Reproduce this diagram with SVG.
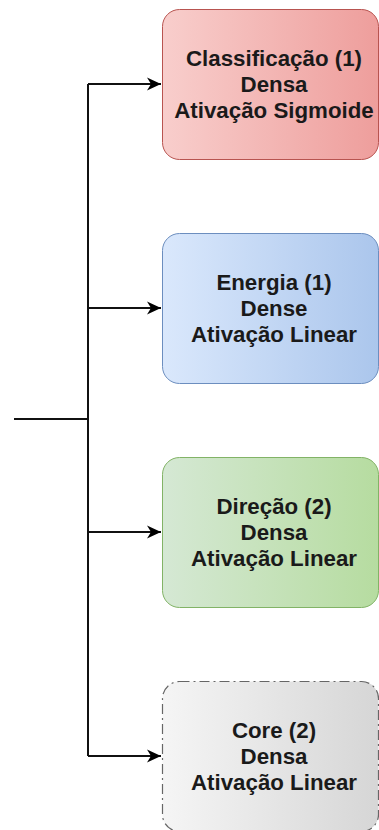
<svg xmlns="http://www.w3.org/2000/svg" width="379" height="830" viewBox="0 0 379 830">
<defs>
<linearGradient id="gRed" x1="0" y1="0" x2="1" y2="0"><stop offset="0" stop-color="#f8cecc"/><stop offset="1" stop-color="#ee9e9c"/></linearGradient>
<linearGradient id="gBlue" x1="0" y1="0" x2="1" y2="0"><stop offset="0" stop-color="#dae8fc"/><stop offset="1" stop-color="#abc6ec"/></linearGradient>
<linearGradient id="gGreen" x1="0" y1="0" x2="1" y2="0"><stop offset="0" stop-color="#d5e8d4"/><stop offset="1" stop-color="#b6dca0"/></linearGradient>
<linearGradient id="gGray" x1="0" y1="0" x2="1" y2="0"><stop offset="0" stop-color="#f5f5f5"/><stop offset="1" stop-color="#d6d6d6"/></linearGradient>
<marker id="arr" markerWidth="16" markerHeight="14" refX="14" refY="7" orient="auto" markerUnits="userSpaceOnUse">
<path d="M0,0.5 L14,7 L0,13.5 L4,7 Z" fill="#000"/>
</marker>
</defs>
<style>
.lbl{font-family:"Liberation Sans",Arial,sans-serif;font-weight:bold;font-size:22.3px;fill:#1a1a1a;text-anchor:middle}
.con{fill:none;stroke:#111;stroke-width:2}
</style>
<g id="connectors">
<path class="con" d="M14,419 H88"/>
<path class="con" d="M88,84 V756"/>
<path class="con" d="M88,84 H161" marker-end="url(#arr)"/>
<path class="con" d="M88,308 H161" marker-end="url(#arr)"/>
<path class="con" d="M88,532 H161" marker-end="url(#arr)"/>
<path class="con" d="M88,756 H161" marker-end="url(#arr)"/>
</g>
<g id="node-classificacao">
<rect x="162.5" y="9.5" width="216" height="150" rx="17" fill="url(#gRed)" stroke="#b85450" stroke-width="1"/>
<text class="lbl" x="274" y="65.7">Classificação (1)</text>
<text class="lbl" x="274" y="91.7">Densa</text>
<text class="lbl" x="274" y="117.7">Ativação Sigmoide</text>
</g>
<g id="node-energia">
<rect x="162.5" y="233.5" width="216" height="150" rx="17" fill="url(#gBlue)" stroke="#6c8ebf" stroke-width="1"/>
<text class="lbl" x="274" y="289.7">Energia (1)</text>
<text class="lbl" x="274" y="315.7">Dense</text>
<text class="lbl" x="274" y="341.7">Ativação Linear</text>
</g>
<g id="node-direcao">
<rect x="162.5" y="457.5" width="216" height="150" rx="17" fill="url(#gGreen)" stroke="#82b366" stroke-width="1"/>
<text class="lbl" x="274" y="513.7">Direção (2)</text>
<text class="lbl" x="274" y="539.7">Densa</text>
<text class="lbl" x="274" y="565.7">Ativação Linear</text>
</g>
<g id="node-core">
<rect x="162.5" y="681.5" width="216" height="150" rx="17" fill="url(#gGray)" stroke="#666666" stroke-width="1.2" stroke-dasharray="10 4 2 4"/>
<text class="lbl" x="274" y="737.7">Core (2)</text>
<text class="lbl" x="274" y="763.7">Densa</text>
<text class="lbl" x="274" y="789.7">Ativação Linear</text>
</g>
</svg>
